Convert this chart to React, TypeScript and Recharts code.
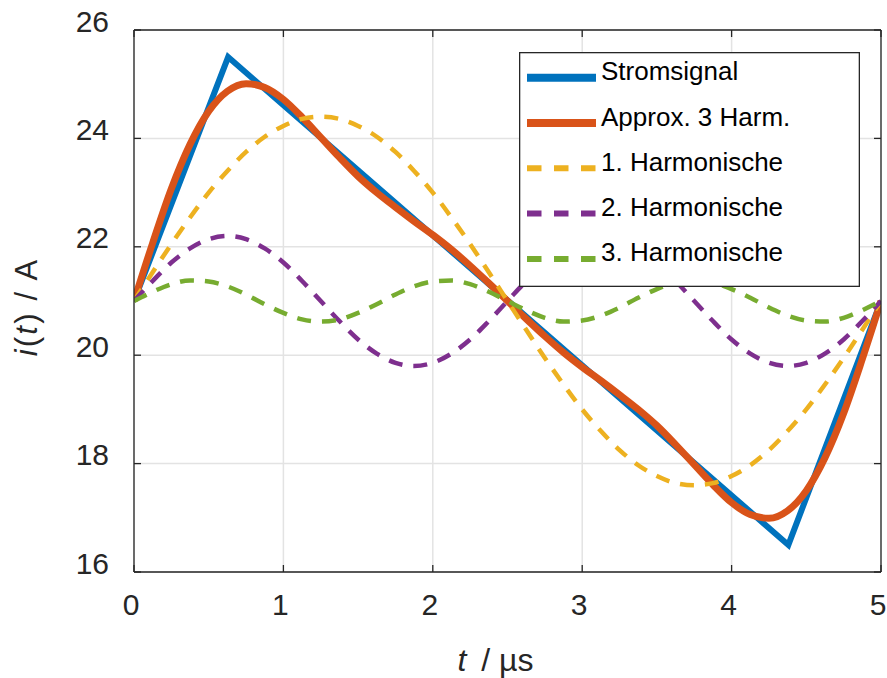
import {
  CartesianGrid,
  Label,
  Legend,
  Line,
  LineChart,
  XAxis,
  YAxis,
} from "recharts";

// time grid in µs
const times = [
  0, 0.125, 0.25, 0.375, 0.5, 0.625, 0.75, 0.875, 1, 1.125, 1.25, 1.375, 1.5, 1.625, 1.75,
  1.875, 2, 2.125, 2.25, 2.375, 2.5, 2.625, 2.75, 2.875, 3, 3.125, 3.25, 3.375, 3.5, 3.625,
  3.75, 3.875, 4, 4.125, 4.25, 4.375, 4.5, 4.625, 4.75, 4.875, 5,
];

const approx = [
  21.0, 22.07, 23.07, 23.89, 24.5, 24.87, 25.01, 24.94, 24.72, 24.39, 24.02, 23.65, 23.3,
  23.0, 22.73, 22.47, 22.22, 21.95, 21.65, 21.33, 21.0, 20.67, 20.35, 20.05, 19.78, 19.53,
  19.27, 19.0, 18.7, 18.35, 17.98, 17.61, 17.28, 17.06, 16.99, 17.13, 17.5, 18.11, 18.93,
  19.93, 21.0,
];

const harm1 = [
  21.0, 21.53, 22.05, 22.54, 23.0, 23.4, 23.75, 24.03, 24.23, 24.36, 24.4, 24.36, 24.23,
  24.03, 23.75, 23.4, 23.0, 22.54, 22.05, 21.53, 21.0, 20.47, 19.95, 19.46, 19.0, 18.6,
  18.25, 17.97, 17.77, 17.64, 17.6, 17.64, 17.77, 17.97, 18.25, 18.6, 19.0, 19.46, 19.95,
  20.47, 21.0,
];

const harm2 = [
  21.0, 21.37, 21.71, 21.97, 22.14, 22.2, 22.14, 21.97, 21.71, 21.37, 21.0, 20.63, 20.29,
  20.03, 19.86, 19.8, 19.86, 20.03, 20.29, 20.63, 21.0, 21.37, 21.71, 21.97, 22.14, 22.2,
  22.14, 21.97, 21.71, 21.37, 21.0, 20.63, 20.29, 20.03, 19.86, 19.8, 19.86, 20.03, 20.29,
  20.63, 21.0,
];

const harm3 = [
  21.0, 21.17, 21.31, 21.38, 21.36, 21.27, 21.12, 20.94, 20.78, 20.66, 20.62, 20.66, 20.78,
  20.94, 21.12, 21.27, 21.36, 21.38, 21.31, 21.17, 21.0, 20.83, 20.69, 20.62, 20.64, 20.73,
  20.88, 21.06, 21.22, 21.34, 21.38, 21.34, 21.22, 21.06, 20.88, 20.73, 20.64, 20.62, 20.69,
  20.83, 21.0,
];

// triangular current signal corners
const signalTimes = [0, 0.63, 4.38, 5];
const signalValues = [21, 25.5, 16.5, 21];

const xTicks = [0, 1, 2, 3, 4, 5];
const yTicks = [16, 18, 20, 22, 24, 26];

// legend entries, in plot order
const legendNames = ["Stromsignal", "Approx. 3 Harm.", "1. Harmonische", "2. Harmonische", "3. Harmonische"];
const legendColors = ["#0072BD", "#D95319", "#EDB120", "#7E2F8E", "#77AC30"];
const legendDashed = [false, false, true, true, true];

const AXIS = "#262626";
const FONT = "'Liberation Sans', Arial, Helvetica, sans-serif";
const DASH = "14 11";

const rows = times.map((t, i) => ({
  t,
  approx: approx[i],
  h1: harm1[i],
  h2: harm2[i],
  h3: harm3[i],
}));

const signal = signalTimes.map((t, i) => ({ t, signal: signalValues[i] }));

function LeftTick({ x, y, payload }: any) {
  return (
    <g>
      <line x1={x} x2={x + 7} y1={y} y2={y} stroke={AXIS} strokeWidth={1.3} />
      <text x={x - 25} y={y - 9} textAnchor="end" dominantBaseline="central" fontSize={30} fill={AXIS}>
        {payload.value}
      </text>
    </g>
  );
}

function RightTick({ x, y }: any) {
  return <line x1={x} x2={x - 7} y1={y} y2={y} stroke={AXIS} strokeWidth={1.3} />;
}

function BottomTick({ x, y, payload }: any) {
  return (
    <g>
      <line x1={x} x2={x} y1={y} y2={y - 7} stroke={AXIS} strokeWidth={1.3} />
      <text x={x - 3} y={y + 32} textAnchor="middle" dominantBaseline="central" fontSize={30} fill={AXIS}>
        {payload.value}
      </text>
    </g>
  );
}

function TopTick({ x, y }: any) {
  return <line x1={x} x2={x} y1={y} y2={y + 7} stroke={AXIS} strokeWidth={1.3} />;
}

function XTitle({ viewBox }: any) {
  const cx = viewBox.x + viewBox.width / 2;
  return (
    <text x={cx - 50} y={viewBox.y + 99} fontSize={32} fill={AXIS} fontFamily={FONT}>
      <tspan fontStyle="italic">t</tspan>
      <tspan dx={6}>{" / µs"}</tspan>
    </text>
  );
}

function YTitle({ viewBox }: any) {
  const cy = viewBox.y + viewBox.height / 2 + 6;
  const x = 37;
  return (
    <text
      x={x}
      y={cy}
      transform={`rotate(-90 ${x} ${cy})`}
      textAnchor="middle"
      fontSize={31}
      letterSpacing={2.2}
      fill={AXIS}
      fontFamily={FONT}
    >
      <tspan fontStyle="italic">i</tspan>
      <tspan>(</tspan>
      <tspan fontStyle="italic">t</tspan>
      <tspan>{") / A"}</tspan>
    </text>
  );
}

function LegendBox() {
  return (
    <svg width={341} height={235} style={{ display: "block" }}>
      <rect x={0.65} y={0.65} width={339.7} height={233.7} fill="#fff" stroke={AXIS} strokeWidth={1.3} />
      {legendNames.map((name, i) => {
        const cy = 25.7 + i * 45.3;
        const dashed = legendDashed[i];
        return (
          <g key={name}>
            <line
              x1={8}
              x2={77}
              y1={cy}
              y2={cy}
              stroke={legendColors[i]}
              strokeWidth={dashed ? 6 : 8}
              strokeDasharray={dashed ? "14.5 12.5" : undefined}
            />
            <text x={82} y={cy + 2.5} fontSize={26} fill="#000" fontFamily={FONT}>
              {name}
            </text>
          </g>
        );
      })}
    </svg>
  );
}

export default function App() {
  return (
    <div style={{ position: "absolute", left: 0, top: 0, width: 887, height: 678, background: "#fff" }}>
      <LineChart
        width={887}
        height={678}
        data={rows}
        margin={{ top: 29, right: 5, left: 133, bottom: 105 }}
        style={{ fontFamily: FONT }}
      >
        <CartesianGrid stroke="#e3e3e3" strokeWidth={1.5} />
        <XAxis
          dataKey="t"
          type="number"
          domain={[0, 5]}
          ticks={xTicks}
          allowDataOverflow
          height={1}
          tickSize={0}
          tickMargin={0}
          tickLine={false}
          axisLine={{ stroke: AXIS, strokeWidth: 1.3 }}
          tick={<BottomTick />}
        >
          <Label content={<XTitle />} />
        </XAxis>
        <XAxis
          xAxisId="top"
          orientation="top"
          dataKey="t"
          type="number"
          domain={[0, 5]}
          ticks={xTicks}
          allowDataOverflow
          height={1}
          tickSize={0}
          tickMargin={0}
          tickLine={false}
          axisLine={{ stroke: AXIS, strokeWidth: 1.3 }}
          tick={<TopTick />}
        />
        <YAxis
          type="number"
          domain={[16, 26]}
          ticks={yTicks}
          allowDataOverflow
          width={1}
          tickSize={0}
          tickMargin={0}
          tickLine={false}
          axisLine={{ stroke: AXIS, strokeWidth: 1.3 }}
          tick={<LeftTick />}
        >
          <Label content={<YTitle />} />
        </YAxis>
        <YAxis
          yAxisId="r"
          orientation="right"
          type="number"
          domain={[16, 26]}
          ticks={yTicks}
          allowDataOverflow
          width={1}
          tickSize={0}
          tickMargin={0}
          tickLine={false}
          axisLine={{ stroke: AXIS, strokeWidth: 1.3 }}
          tick={<RightTick />}
        />
        <Legend
          layout="vertical"
          align="center"
          verticalAlign="middle"
          content={<LegendBox />}
          wrapperStyle={{ position: "absolute", left: 519, top: 52, width: 341, height: 235 }}
        />
        <Line
          data={signal}
          dataKey="signal"
          name="Stromsignal"
          type="linear"
          stroke={legendColors[0]}
          strokeWidth={6}
          dot={false}
          activeDot={false}
          isAnimationActive={false}
        />
        <Line
          dataKey="approx"
          name="Approx. 3 Harm."
          type="monotone"
          stroke={legendColors[1]}
          strokeWidth={7}
          dot={false}
          activeDot={false}
          isAnimationActive={false}
        />
        <Line
          dataKey="h1"
          name="1. Harmonische"
          type="monotone"
          stroke={legendColors[2]}
          strokeWidth={4.5}
          strokeDasharray={DASH}
          dot={false}
          activeDot={false}
          isAnimationActive={false}
        />
        <Line
          dataKey="h2"
          name="2. Harmonische"
          type="monotone"
          stroke={legendColors[3]}
          strokeWidth={4.5}
          strokeDasharray={DASH}
          dot={false}
          activeDot={false}
          isAnimationActive={false}
        />
        <Line
          dataKey="h3"
          name="3. Harmonische"
          type="monotone"
          stroke={legendColors[4]}
          strokeWidth={4.5}
          strokeDasharray={DASH}
          dot={false}
          activeDot={false}
          isAnimationActive={false}
        />
      </LineChart>
    </div>
  );
}
